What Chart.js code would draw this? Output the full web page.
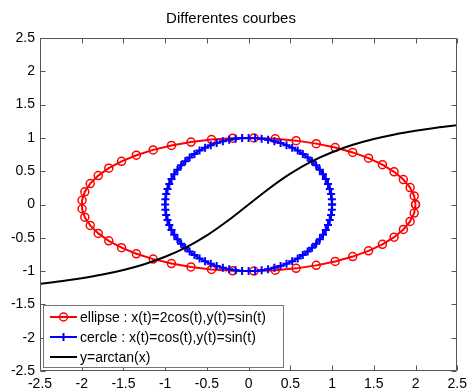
<!DOCTYPE html>
<html lang="fr">
<head>
<meta charset="UTF-8">
<title>Differentes courbes</title>
<script src="https://cdn.jsdelivr.net/npm/chart.js@4.4.1/dist/chart.umd.min.js"></script>
<style>
  html, body { margin: 0; padding: 0; background: #fff; }
  #chart { display: block; }
</style>
</head>
<body>
<canvas id="chart" width="472" height="390"></canvas>
<script>
  // ellipse : x(t)=2cos(t), y(t)=sin(t), 50 points
  var ellipseX = [2, 1.984, 1.935, 1.854, 1.743, 1.603, 1.437, 1.247, 1.037, 0.810, 0.569, 0.319, 0.064,
    -0.192, -0.445, -0.691, -0.925, -1.144, -1.345, -1.523, -1.676, -1.802, -1.898, -1.963, -1.996,
    -1.996, -1.963, -1.898, -1.802, -1.676, -1.523, -1.345, -1.144, -0.925, -0.691, -0.445, -0.192,
    0.064, 0.319, 0.569, 0.810, 1.037, 1.247, 1.437, 1.603, 1.743, 1.854, 1.935, 1.984, 2];
  var ellipseY = [0, 0.128, 0.254, 0.375, 0.491, 0.598, 0.696, 0.782, 0.855, 0.914, 0.959, 0.987, 0.999,
    0.995, 0.975, 0.938, 0.887, 0.820, 0.740, 0.648, 0.546, 0.434, 0.315, 0.191, 0.064,
    -0.064, -0.191, -0.315, -0.434, -0.546, -0.648, -0.740, -0.820, -0.887, -0.938, -0.975, -0.995,
    -0.999, -0.987, -0.959, -0.914, -0.855, -0.782, -0.696, -0.598, -0.491, -0.375, -0.254, -0.128, 0];

  // cercle : x(t)=cos(t), y(t)=sin(t), 81 points
  var cercleX = [1, 0.997, 0.988, 0.972, 0.951, 0.924, 0.891, 0.853, 0.809, 0.760, 0.707, 0.649, 0.588, 0.522, 0.454, 0.383, 0.309, 0.233, 0.156, 0.078, 0,
    -0.078, -0.156, -0.233, -0.309, -0.383, -0.454, -0.522, -0.588, -0.649, -0.707, -0.760, -0.809, -0.853, -0.891, -0.924, -0.951, -0.972, -0.988, -0.997, -1,
    -0.997, -0.988, -0.972, -0.951, -0.924, -0.891, -0.853, -0.809, -0.760, -0.707, -0.649, -0.588, -0.522, -0.454, -0.383, -0.309, -0.233, -0.156, -0.078, 0,
    0.078, 0.156, 0.233, 0.309, 0.383, 0.454, 0.522, 0.588, 0.649, 0.707, 0.760, 0.809, 0.853, 0.891, 0.924, 0.951, 0.972, 0.988, 0.997, 1];
  var cercleY = [0, 0.078, 0.156, 0.233, 0.309, 0.383, 0.454, 0.522, 0.588, 0.649, 0.707, 0.760, 0.809, 0.853, 0.891, 0.924, 0.951, 0.972, 0.988, 0.997, 1,
    0.997, 0.988, 0.972, 0.951, 0.924, 0.891, 0.853, 0.809, 0.760, 0.707, 0.649, 0.588, 0.522, 0.454, 0.383, 0.309, 0.233, 0.156, 0.078, 0,
    -0.078, -0.156, -0.233, -0.309, -0.383, -0.454, -0.522, -0.588, -0.649, -0.707, -0.760, -0.809, -0.853, -0.891, -0.924, -0.951, -0.972, -0.988, -0.997, -1,
    -0.997, -0.988, -0.972, -0.951, -0.924, -0.891, -0.853, -0.809, -0.760, -0.707, -0.649, -0.588, -0.522, -0.454, -0.383, -0.309, -0.233, -0.156, -0.078, 0];

  // y = arctan(x)
  var atanX = [-2.5, -2.25, -2, -1.75, -1.5, -1.25, -1, -0.75, -0.5, -0.25, 0, 0.25, 0.5, 0.75, 1, 1.25, 1.5, 1.75, 2, 2.25, 2.5];
  var atanY = [-1.190, -1.153, -1.107, -1.052, -0.983, -0.896, -0.785, -0.644, -0.464, -0.245, 0,
    0.245, 0.464, 0.644, 0.785, 0.896, 0.983, 1.052, 1.107, 1.153, 1.190];

  var xTicks = [-2.5, -2, -1.5, -1, -0.5, 0, 0.5, 1, 1.5, 2, 2.5];
  var xTickLabels = ['-2.5', '-2', '-1.5', '-1', '-0.5', '0', '0.5', '1', '1.5', '2', '2.5'];
  var yTicks = [-2.5, -2, -1.5, -1, -0.5, 0, 0.5, 1, 1.5, 2, 2.5];
  var yTickLabels = ['-2.5', '-2', '-1.5', '-1', '-0.5', '0', '0.5', '1', '1.5', '2', '2.5'];

  var legendLabels = ['ellipse : x(t)=2cos(t),y(t)=sin(t)', 'cercle : x(t)=cos(t),y(t)=sin(t)', 'y=arctan(x)'];

  var fontFamily = '"Liberation Sans", Arial, Helvetica, sans-serif';

  function toPoints(xs, ys) {
    return xs.map(function (x, i) { return { x: x, y: ys[i] }; });
  }

  // MATLAB-like box with inward ticks, plus a legend in the lower-left corner
  var matlabBox = {
    id: 'matlabBox',
    afterDraw: function (chart) {
      var ctx = chart.ctx;
      var a = chart.chartArea;
      var xs = chart.scales.x;
      var ys = chart.scales.y;
      var L = Math.round(a.left) + 0.5, R = Math.round(a.right) - 0.5;
      var T = Math.round(a.top) + 0.5, B = Math.round(a.bottom) - 0.5;
      ctx.save();
      ctx.strokeStyle = '#555';
      ctx.lineWidth = 1;
      ctx.beginPath();
      ctx.rect(L, T, R - L, B - T);
      xTicks.forEach(function (v) {
        var px = Math.round(xs.getPixelForValue(v)) + 0.5;
        ctx.moveTo(px, B); ctx.lineTo(px, B - 5);
        ctx.moveTo(px, T); ctx.lineTo(px, T + 5);
      });
      yTicks.forEach(function (v) {
        var py = Math.round(ys.getPixelForValue(v)) + 0.5;
        ctx.moveTo(L, py); ctx.lineTo(L + 5, py);
        ctx.moveTo(R, py); ctx.lineTo(R - 5, py);
      });
      ctx.stroke();

      // legend
      var lx = 43.5, ly = 305.5, lw = 240, lh = 62;
      ctx.fillStyle = '#fff';
      ctx.fillRect(lx, ly, lw, lh);
      ctx.strokeStyle = '#777';
      ctx.strokeRect(lx, ly, lw, lh);
      ctx.font = '14px ' + fontFamily;
      ctx.textBaseline = 'middle';
      ctx.textAlign = 'left';
      chart.data.datasets.forEach(function (ds, i) {
        var cy = 317 + i * 20;
        ctx.strokeStyle = ds.borderColor;
        ctx.lineWidth = 2;
        ctx.beginPath();
        ctx.moveTo(50, cy); ctx.lineTo(77, cy);
        ctx.stroke();
        if (ds.pointRadius > 0) {
          ctx.lineWidth = ds.pointBorderWidth;
          ctx.beginPath();
          if (ds.pointStyle === 'circle') {
            ctx.arc(63.5, cy, ds.pointRadius, 0, Math.PI * 2);
          } else {
            ctx.moveTo(63.5 - ds.pointRadius, cy); ctx.lineTo(63.5 + ds.pointRadius, cy);
            ctx.moveTo(63.5, cy - ds.pointRadius); ctx.lineTo(63.5, cy + ds.pointRadius);
          }
          ctx.stroke();
        }
        ctx.fillStyle = '#000';
        ctx.fillText(legendLabels[i], 80, cy + 1);
      });
      ctx.restore();
    }
  };

  var chart = new Chart(document.getElementById('chart'), {
    type: 'scatter',
    data: {
      datasets: [{
        label: legendLabels[0],
        data: toPoints(ellipseX, ellipseY),
        showLine: true,
        borderColor: '#ff0000',
        borderWidth: 2,
        pointStyle: 'circle',
        pointRadius: 4,
        pointBorderWidth: 1.5,
        pointBackgroundColor: 'rgba(0,0,0,0)',
        pointBorderColor: '#ff0000',
        order: 3
      }, {
        label: legendLabels[1],
        data: toPoints(cercleX, cercleY),
        showLine: true,
        borderColor: '#0000ff',
        borderWidth: 2,
        pointStyle: 'cross',
        pointRadius: 4,
        pointBorderWidth: 2,
        pointBackgroundColor: '#0000ff',
        pointBorderColor: '#0000ff',
        order: 2
      }, {
        label: legendLabels[2],
        data: toPoints(atanX, atanY),
        showLine: true,
        borderColor: '#000000',
        borderWidth: 2,
        pointRadius: 0,
        pointBorderWidth: 0,
        cubicInterpolationMode: 'monotone',
        order: 1
      }]
    },
    options: {
      responsive: false,
      animation: false,
      layout: { padding: { left: 0, right: 10, top: 0, bottom: 0 } },
      plugins: {
        legend: { display: false },
        tooltip: { enabled: false },
        title: {
          display: true,
          text: 'Differentes courbes',
          color: '#000',
          font: { family: fontFamily, size: 15, weight: 'normal' },
          padding: { top: 10, bottom: 10 }
        }
      },
      scales: {
        x: {
          type: 'linear',
          min: -2.5,
          max: 2.5,
          afterBuildTicks: function (s) { s.ticks = xTicks.map(function (v) { return { value: v }; }); },
          afterFit: function (s) { s.height = 19; },
          grid: { display: false, drawTicks: false },
          border: { display: false },
          ticks: {
            color: '#000',
            padding: 5,
            maxRotation: 0,
            autoSkip: false,
            font: { family: fontFamily, size: 14 },
            callback: function (v, i) { return xTickLabels[i]; }
          }
        },
        y: {
          type: 'linear',
          min: -2.5,
          max: 2.5,
          afterBuildTicks: function (s) { s.ticks = yTicks.map(function (v) { return { value: v }; }); },
          afterFit: function (s) { s.width = 40; },
          grid: { display: false, drawTicks: false },
          border: { display: false },
          ticks: {
            color: '#000',
            padding: 5,
            autoSkip: false,
            font: { family: fontFamily, size: 14 },
            callback: function (v, i) { return yTickLabels[i]; }
          }
        }
      }
    },
    plugins: [matlabBox]
  });
</script>
</body>
</html>
